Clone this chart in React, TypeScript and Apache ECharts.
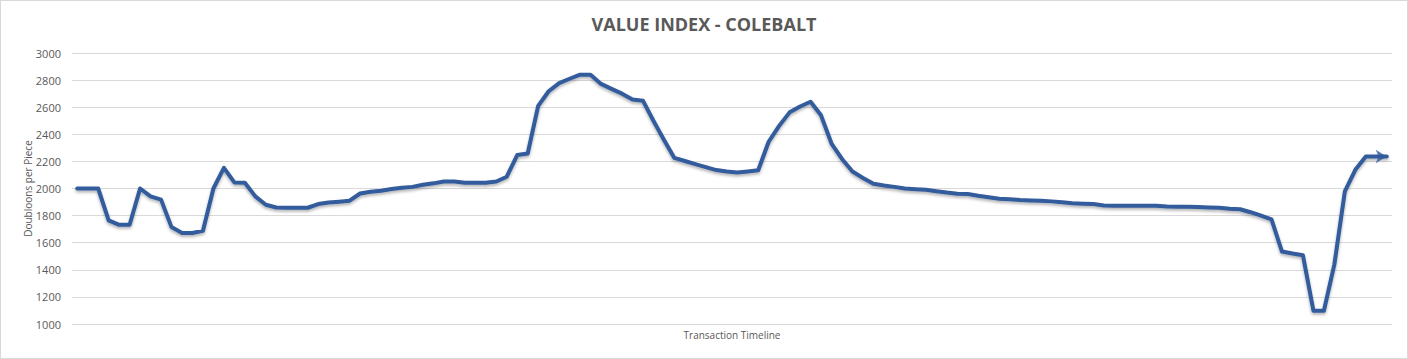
import React, { useEffect, useRef } from "react";
import * as echarts from "echarts";

const TITLE = "VALUE INDEX - COLEBALT";
const X_NAME = "Transaction Timeline";
const Y_NAME = "Doubloons per Piece";
const Y_TICKS = [1000, 1200, 1400, 1600, 1800, 2000, 2200, 2400, 2600, 2800, 3000];

const values: number[] = [
  2000, 2000, 2000, 1765, 1732, 1732, 2000, 1942, 1918, 1715,
  1672, 1672, 1688, 2000, 2152, 2045, 2042, 1942, 1880, 1860,
  1858, 1858, 1858, 1885, 1896, 1903, 1910, 1963, 1976, 1984,
  1996, 2005, 2012, 2028, 2038, 2052, 2052, 2042, 2042, 2042,
  2052, 2087, 2247, 2258, 2610, 2718, 2778, 2810, 2840, 2840,
  2772, 2735, 2700, 2656, 2648, 2500, 2360, 2226, 2203, 2180,
  2158, 2136, 2126, 2118, 2126, 2135, 2345, 2462, 2562, 2605,
  2640, 2540, 2332, 2218, 2125, 2078, 2035, 2022, 2012, 2000,
  1995, 1990, 1980, 1970, 1962, 1960, 1946, 1935, 1925, 1920,
  1915, 1912, 1910, 1905, 1898, 1892, 1888, 1885, 1875, 1873,
  1873, 1873, 1873, 1873, 1868, 1866, 1866, 1863, 1860, 1858,
  1850, 1847, 1825, 1800, 1772, 1535, 1520, 1507, 1098, 1098,
  1440, 1978, 2138, 2236, 2236, 2236,
];

const categories: string[] = values.map((_, i) => String(i + 1));

export default function App() {
  const ref = useRef<HTMLDivElement>(null);
  useEffect(() => {
    document.body.style.margin = "0";
    if (!ref.current) return;
    const chart = echarts.init(ref.current, null, { renderer: "svg" });
    const last = values.length - 1;
    const arrowData = values.map((v, i) => (i === last ? v : null));
    chart.setOption({
      animation: false,
      backgroundColor: "#ffffff",
      title: {
        text: TITLE,
        left: "center",
        top: 9,
        textStyle: {
          fontFamily: "Open Sans",
          fontWeight: "bold",
          fontSize: 18,
          color: "#595959",
        },
      },
      grid: { left: 71, right: 15, top: 52, bottom: 34 },
      xAxis: {
        type: "category",
        data: categories,
        boundaryGap: true,
        name: X_NAME,
        nameLocation: "middle",
        nameGap: 6,
        nameTextStyle: { fontFamily: "Open Sans", fontSize: 10, color: "#595959" },
        axisLine: { show: false },
        axisTick: { show: false },
        axisLabel: { show: false },
        splitLine: { show: false },
      },
      yAxis: {
        type: "value",
        min: Y_TICKS[0],
        max: Y_TICKS[Y_TICKS.length - 1],
        interval: Y_TICKS[1] - Y_TICKS[0],
        name: Y_NAME,
        nameLocation: "middle",
        nameGap: 39,
        nameMoveOverlap: false,
        nameTextStyle: { fontFamily: "Open Sans", fontSize: 10, color: "#595959" },
        axisLine: { show: false },
        axisTick: { show: false },
        axisLabel: {
          fontFamily: "Open Sans",
          fontSize: 11,
          color: "#595959",
          margin: 11,
          formatter: (v: number) => String(v),
        },
        splitLine: { lineStyle: { color: "#d9d9d9", width: 1 } },
      },
      series: [
        {
          type: "line",
          data: values,
          showSymbol: false,
          symbol: "none",
          lineStyle: {
            color: "#335b9c",
            width: 4,
            cap: "round",
            join: "round",
            shadowColor: "rgba(0,0,0,0.3)",
            shadowBlur: 3,
            shadowOffsetY: 2,
          },
          z: 2,
        },
        {
          type: "scatter",
          data: arrowData,
          symbol: "arrow",
          symbolSize: [10, 11],
          symbolRotate: -90,
          symbolOffset: [0, 0],
          itemStyle: { color: "#335b9c" },
          z: 3,
        },
      ],
    });
    return () => chart.dispose();
  }, []);
  return (
    <div
      ref={ref}
      style={{
        width: 1408,
        height: 359,
        border: "1px solid #d9d9d9",
        boxSizing: "border-box",
      }}
    />
  );
}
